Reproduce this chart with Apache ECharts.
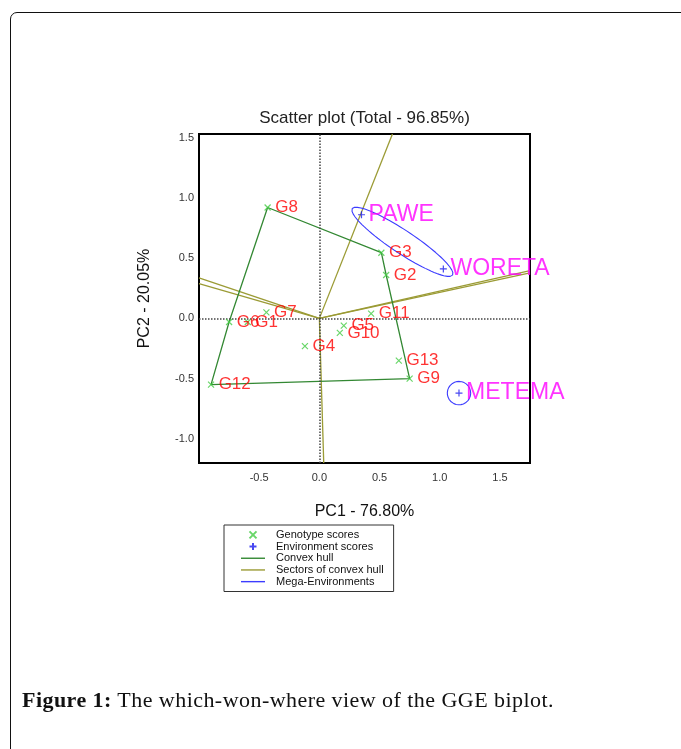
<!DOCTYPE html>
<html>
<head>
<meta charset="utf-8">
<script src="https://cdn.jsdelivr.net/npm/echarts@6/dist/echarts.min.js"></script>
<style>
  html, body { margin: 0; padding: 0; background: #fff; overflow: hidden; }
  #frame { position: absolute; left: 10px; top: 12px; width: 900px; height: 900px;
           border: 1.5px solid #111; border-radius: 7px; }
  #chart { position: absolute; left: 0; top: 0; width: 681px; height: 749px; }
  #caption { position: absolute; left: 22px; top: 687px; white-space: nowrap; letter-spacing: 0.45px;
             font-family: "Liberation Serif", serif; font-size: 22px; color: #111; }
</style>
</head>
<body>
<div id="frame"></div>
<div id="chart"></div>
<div id="caption"><b>Figure 1:</b> The which-won-where view of the GGE biplot.</div>
<script>
// Genotype scores on the first two principal components
const genotypes = ['G1', 'G2', 'G3', 'G4', 'G5', 'G6', 'G7', 'G8', 'G9', 'G10', 'G11', 'G12', 'G13'];
const genoPC1   = [-0.595, 0.555, 0.515, -0.12, 0.203, -0.75, -0.44, -0.43, 0.75, 0.17, 0.43, -0.90, 0.66];
const genoPC2   = [-0.03, 0.36, 0.545, -0.23, -0.06, -0.03, 0.05, 0.92, -0.50, -0.12, 0.04, -0.55, -0.35];

// Environment scores
const environments = ['PAWE', 'WORETA', 'METEMA'];
const envPC1 = [0.35, 1.03, 1.16];
const envPC2 = [0.86, 0.41, -0.62];

// Vertices of the convex hull (closed polygon, by genotype name)
const hullOrder = ['G8', 'G3', 'G2', 'G9', 'G12', 'G6', 'G8'];

// Mega-environment outlines: centre, semi-axes, rotation (degrees)
const megaCenterX = [0.69, 1.16];
const megaCenterY = [0.635, -0.62];
const megaSemiA   = [0.50, 0.097];
const megaSemiB   = [0.095, 0.097];
const megaAngle   = [-33.5, 0];

// Axis ranges and tick step
const xMin = -1.0, xMax = 1.75, yMin = -1.2, yMax = 1.53;
const tickStep = 0.5;

const FONT = '"Liberation Sans", Arial, sans-serif';
const genoIdx = {};
genotypes.forEach((g, i) => { genoIdx[g] = i; });

const hullData = hullOrder.map(g => [genoPC1[genoIdx[g]], genoPC2[genoIdx[g]]]);

// Extend a ray from the origin until it meets the plotting window
function toBoundary(dx, dy) {
  let t = Infinity;
  if (dx > 0) t = Math.min(t, xMax / dx);
  if (dx < 0) t = Math.min(t, xMin / dx);
  if (dy > 0) t = Math.min(t, yMax / dy);
  if (dy < 0) t = Math.min(t, yMin / dy);
  return [dx * t, dy * t];
}

// One sector line per hull edge: perpendicular from the origin to the edge
const sectorLines = [];
for (let i = 0; i < hullData.length - 1; i++) {
  const A = hullData[i], B = hullData[i + 1];
  const ex = B[0] - A[0], ey = B[1] - A[1];
  const t = -(A[0] * ex + A[1] * ey) / (ex * ex + ey * ey);
  const px = A[0] + t * ex, py = A[1] + t * ey;
  sectorLines.push([[0, 0], toBoundary(px, py)]);
}

function ellipsePoints(k) {
  const pts = [];
  const phi = megaAngle[k] * Math.PI / 180;
  for (let s = 0; s <= 90; s++) {
    const th = 2 * Math.PI * s / 90;
    const ex = megaSemiA[k] * Math.cos(th), ey = megaSemiB[k] * Math.sin(th);
    pts.push([megaCenterX[k] + ex * Math.cos(phi) - ey * Math.sin(phi),
              megaCenterY[k] + ex * Math.sin(phi) + ey * Math.cos(phi)]);
  }
  return pts;
}

function tickFormatter(hideMin) {
  return function (v) {
    if (Math.abs(v / tickStep - Math.round(v / tickStep)) > 1e-6) return '';
    if (hideMin !== null && Math.abs(v - hideMin) < 1e-6) return '';
    return v.toFixed(1);
  };
}

const CROSS = 'path://M0,0L10,10M10,0L0,10';
const PLUS = 'path://M5,0L5,10M0,5L10,5';
const LINE_ICON = 'path://M0,0L24,0L24,1.4L0,1.4Z';
const HULL_COLOR = '#338833';
const SECTOR_COLOR = '#9b9b35';
const MEGA_COLOR = '#3c3cff';

const series = [];

sectorLines.forEach(seg => {
  series.push({
    name: 'Sectors of convex hull', type: 'line', data: seg, symbol: 'none',
    lineStyle: { color: SECTOR_COLOR, width: 1.3 }, itemStyle: { color: SECTOR_COLOR },
    z: 2, silent: true
  });
});

series.push({
  name: 'Convex hull', type: 'line', data: hullData, symbol: 'none',
  lineStyle: { color: HULL_COLOR, width: 1.3 }, itemStyle: { color: HULL_COLOR },
  z: 3, silent: true,
  markLine: {
    silent: true, symbol: 'none', label: { show: false },
    lineStyle: { color: '#444', type: 'dotted', width: 1.5 },
    data: [{ xAxis: 0 }, { yAxis: 0 }]
  }
});

[0, 1].forEach(k => {
  series.push({
    name: 'Mega-Environments', type: 'line', data: ellipsePoints(k), symbol: 'none',
    lineStyle: { color: MEGA_COLOR, width: 1.1 }, itemStyle: { color: MEGA_COLOR },
    z: 3, silent: true
  });
});

series.push({
  name: 'Genotype scores', type: 'scatter', symbol: CROSS, symbolSize: 6,
  itemStyle: { color: 'rgba(0,0,0,0)', borderColor: '#44cc44', borderWidth: 1.2 },
  data: genotypes.map((g, i) => ({ name: g, value: [genoPC1[i], genoPC2[i]] })),
  label: { show: true, position: 'right', distance: 4, formatter: '{b}',
           color: '#ff0000', fontSize: 17, fontFamily: FONT },
  z: 5
});

series.push({
  name: 'Environment scores', type: 'scatter', symbol: PLUS, symbolSize: 7,
  itemStyle: { color: 'rgba(0,0,0,0)', borderColor: '#1a1aee', borderWidth: 1.2 },
  data: environments.map((e, i) => ({ name: e, value: [envPC1[i], envPC2[i]] })),
  label: { show: true, position: 'right', distance: 3, formatter: '{b}',
           color: '#ff00ff', fontSize: 23, fontFamily: FONT },
  z: 6
});

const chart = echarts.init(document.getElementById('chart'), null, { renderer: 'canvas' });
chart.setOption({
  animation: false,
  backgroundColor: 'transparent',
  grid: { left: 199, top: 134, width: 331, height: 329, show: true,
          borderColor: '#000', borderWidth: 2, backgroundColor: 'transparent' },
  xAxis: {
    type: 'value', min: xMin, max: xMax,
    name: 'PC1 - 76.80%', nameLocation: 'middle', nameGap: 41,
    nameTextStyle: { fontSize: 16, color: '#111', fontFamily: FONT },
    axisLine: { show: false }, axisTick: { show: false }, splitLine: { show: false },
    axisLabel: { formatter: tickFormatter(xMin), color: '#333', fontSize: 11, margin: 9, fontFamily: FONT }
  },
  yAxis: {
    type: 'value', min: yMin, max: yMax,
    name: 'PC2 - 20.05%', nameLocation: 'middle', nameGap: 46, nameRotate: 90,
    nameTextStyle: { fontSize: 16, color: '#111', fontFamily: FONT },
    axisLine: { show: false }, axisTick: { show: false }, splitLine: { show: false },
    axisLabel: { formatter: tickFormatter(null), color: '#333', fontSize: 11, margin: 5, fontFamily: FONT }
  },
  legend: {
    orient: 'vertical', left: 224, top: 525,
    borderColor: '#333', borderWidth: 1, padding: [4, 10, 4, 17],
    itemWidth: 24, itemHeight: 7, itemGap: 0,
    textStyle: { fontSize: 11, color: '#111', fontFamily: FONT, lineHeight: 11.7, padding: [0, 0, 0, 6] },
    data: [
      { name: 'Genotype scores' },
      { name: 'Environment scores' },
      { name: 'Convex hull', icon: LINE_ICON },
      { name: 'Sectors of convex hull', icon: LINE_ICON },
      { name: 'Mega-Environments', icon: LINE_ICON }
    ],
    selectedMode: false
  },
  graphic: [{
    type: 'text', x: 364.5, y: 118,
    style: { text: 'Scatter plot (Total - 96.85%)', fill: '#222', font: '17px ' + FONT,
             align: 'center', verticalAlign: 'middle' }
  }],
  series: series
});
</script>
</body>
</html>
